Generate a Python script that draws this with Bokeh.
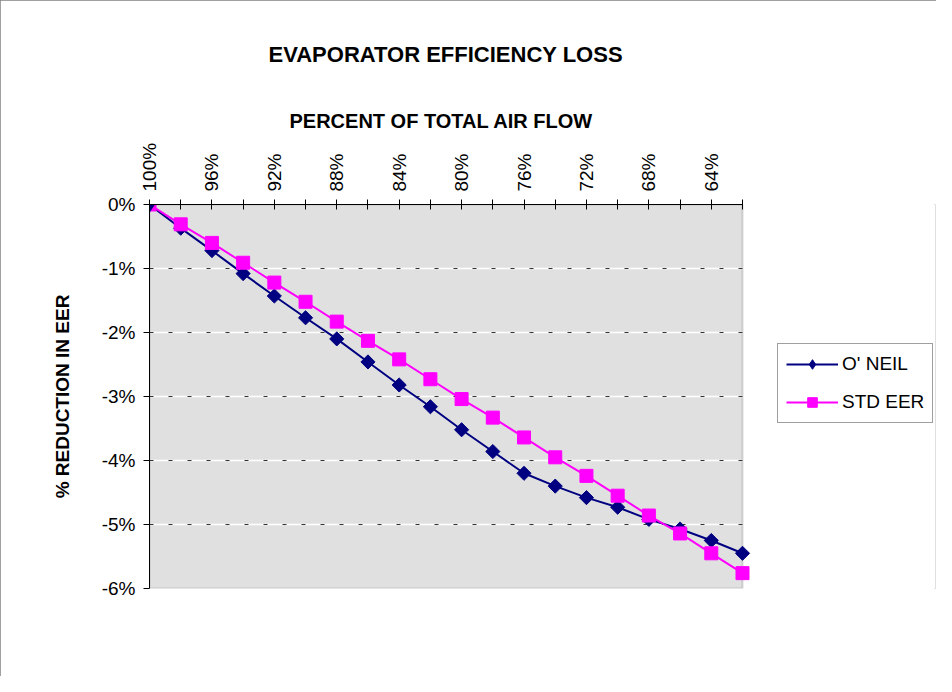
import math
from bokeh.plotting import figure
from bokeh.models import (Range1d, FixedTicker, Legend, LegendItem, ColumnDataSource,
                          BoxAnnotation, Title)
from bokeh.embed import file_html
from bokeh.resources import INLINE

# ---- data ----
airflow_pct = [100, 98, 96, 94, 92, 90, 88, 86, 84, 82, 80, 78, 76, 74, 72, 70, 68, 66, 64, 62]
oneil = [0.00, -0.37, -0.72, -1.08, -1.43, -1.77, -2.10, -2.46, -2.82, -3.16,
         -3.52, -3.86, -4.20, -4.40, -4.58, -4.73, -4.92, -5.07, -5.25, -5.45]
std_eer = [0.00, -0.31, -0.60, -0.91, -1.22, -1.52, -1.83, -2.13, -2.42, -2.73,
           -3.04, -3.33, -3.64, -3.95, -4.24, -4.55, -4.86, -5.14, -5.45, -5.76]
y_ticks = [0, -1, -2, -3, -4, -5, -6]
y_tick_labels = ["0%", "-1%", "-2%", "-3%", "-4%", "-5%", "-6%"]
x_tick_labels = ["100%", "", "96%", "", "92%", "", "88%", "", "84%", "", "80%", "",
                 "76%", "", "72%", "", "68%", "", "64%", ""]

FONT = "Liberation Sans"

# layout (pixels)
LEFT, TOP = 149, 204
PLOT_W, PLOT_H = 593, 384          # grey plot area
FRAME_W = 786                       # frame extends right to hold the legend
x_lo, x_hi = airflow_pct[-1], airflow_pct[0]
px_per_unit = PLOT_W / (x_hi - x_lo)
x_end = x_lo - (FRAME_W - PLOT_W) / px_per_unit

p = figure(frame_width=FRAME_W, frame_height=PLOT_H, output_backend="svg",
           toolbar_location=None,
           x_range=Range1d(x_hi, x_end),
           y_range=Range1d(y_ticks[-1], y_ticks[0]),
           x_axis_location="above",
           min_border_left=LEFT, min_border_right=1, min_border_top=TOP,
           min_border_bottom=676 - TOP - PLOT_H,
           title="EVAPORATOR EFFICIENCY LOSS")

p.styles = {"outline": "2px solid #808080", "outline-offset": "-2px"}

p.background_fill_color = "white"
p.border_fill_color = "white"
p.outline_line_color = None

# main title
p.title.align = "left"
p.title.offset = 119
p.title.text_font = FONT
p.title.text_font_size = "22px"
p.title.text_font_style = "bold"
p.title.text_color = "black"
p.title.standoff = 68

# x axis (top)
xa = p.xaxis[0]
xa.bounds = (x_lo, x_hi)
xa.ticker = FixedTicker(ticks=airflow_pct)
xa.major_label_overrides = {v: lab for v, lab in zip(airflow_pct, x_tick_labels)}
xa.major_label_orientation = math.pi / 2
xa.major_label_text_font = FONT
xa.major_label_text_font_size = "19px"
xa.major_label_text_color = "black"
xa.major_label_standoff = 8
xa.major_tick_in = 5
xa.major_tick_out = 5
xa.minor_tick_line_color = None
xa.axis_line_color = "black"
xa.major_tick_line_color = "black"

# x axis title as a left-aligned title just above the axis
xt = Title(text="PERCENT OF TOTAL AIR FLOW", align="left", offset=140,
           text_font=FONT, text_font_size="20px", text_font_style="bold",
           text_color="black", standoff=15)
p.add_layout(xt, "above")

# y axis
ya = p.yaxis[0]
ya.ticker = FixedTicker(ticks=y_ticks)
ya.major_label_overrides = {v: lab for v, lab in zip(y_ticks, y_tick_labels)}
ya.major_label_text_font = FONT
ya.major_label_text_font_size = "19px"
ya.major_label_text_color = "black"
ya.major_label_standoff = 8
ya.major_tick_in = 0
ya.major_tick_out = 6
ya.minor_tick_line_color = None
ya.axis_line_color = "black"
ya.major_tick_line_color = "black"
ya.axis_label = "% REDUCTION IN EER"
ya.axis_label_text_font = FONT
ya.axis_label_text_font_size = "19px"
ya.axis_label_text_font_style = "bold"
ya.axis_label_text_color = "black"
ya.axis_label_standoff = 26

p.xgrid.grid_line_color = None
p.ygrid.grid_line_color = None

# grey plot area
p.add_layout(BoxAnnotation(left=x_lo, right=x_hi, bottom=y_ticks[-1], top=y_ticks[0],
                           fill_color="#E0E0E0", fill_alpha=1,
                           line_color="#808080", line_width=2, level="underlay"))

# horizontal grid lines (white line with dark dashes)
grid_y = y_ticks[1:-1]
gsrc = ColumnDataSource(dict(x0=[x_hi] * len(grid_y), x1=[x_lo] * len(grid_y), y=grid_y))
p.segment("x0", "y", "x1", "y", source=gsrc, line_color="white", line_width=1.5)
p.segment("x0", "y", "x1", "y", source=gsrc, line_color="#333333", line_width=1,
          line_dash="4 15")

src = ColumnDataSource(dict(x=airflow_pct, a=oneil, b=std_eer))

l1 = p.line("x", "a", source=src, line_color="#000080", line_width=2)
m1 = p.scatter("x", "a", source=src, marker="square", angle=math.pi / 4, size=10,
               fill_color="#000080", line_color="#000080")
l2 = p.line("x", "b", source=src, line_color="#FF00FF", line_width=2)
m2 = p.scatter("x", "b", source=src, marker="square", size=13,
               fill_color="#FF00FF", line_color="#FF00FF")

# diamond swatch for the legend (drawn on the first O' NEIL point, under the frame corner)
m1_key = p.scatter(x=airflow_pct[:1], y=oneil[:1], marker="diamond", size=15,
                   fill_color="#000080", line_color="#000080")

legend = Legend(items=[LegendItem(label="O' NEIL", renderers=[l1, m1_key]),
                       LegendItem(label="STD EER", renderers=[l2, m2])],
                location=(628, 165))
legend.label_text_font = FONT
legend.label_text_font_size = "19px"
legend.label_text_color = "black"
legend.glyph_width = 52
legend.glyph_height = 24
legend.label_standoff = 4
legend.spacing = 14
legend.padding = 8
legend.margin = 0
legend.border_line_color = "#404040"
legend.border_line_width = 1
legend.background_fill_color = "white"
legend.background_fill_alpha = 1
p.add_layout(legend, "center")

open("out.html", "w").write(file_html(p, INLINE))
